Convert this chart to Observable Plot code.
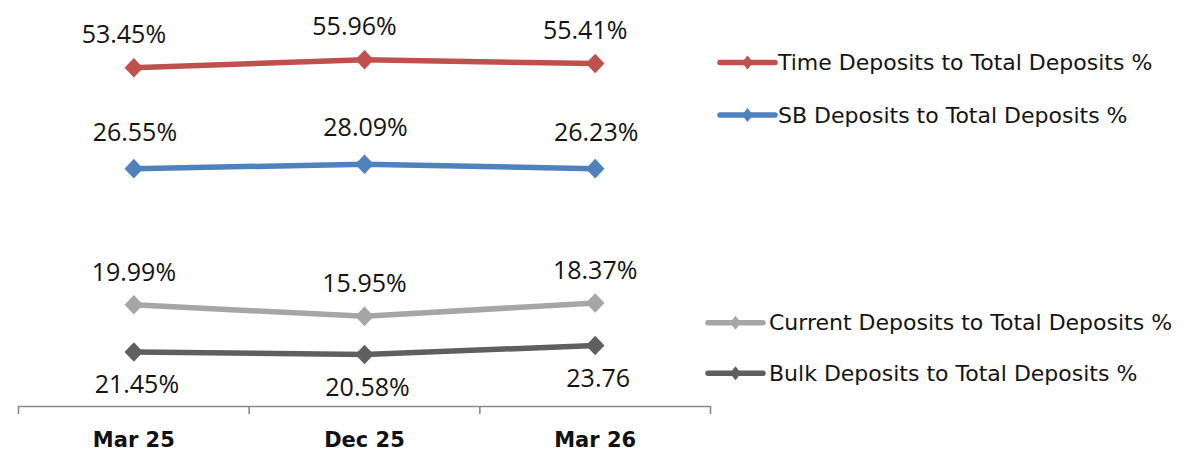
<!DOCTYPE html>
<html>
<head>
<meta charset="utf-8">
<script src="https://cdn.jsdelivr.net/npm/d3@7"></script>
<script src="https://cdn.jsdelivr.net/npm/@observablehq/plot@0.6"></script>
<style>
  html, body { margin: 0; padding: 0; background: #ffffff; }
  #wrap { position: relative; width: 1184px; height: 452px; overflow: hidden; }
  #legend { position: absolute; left: 0; top: 0; pointer-events: none; }
</style>
</head>
<body>
<div id="wrap"></div>
<script>
// ---- Data ----
const categories = ["Mar 25", "Dec 25", "Mar 26"];

const seriesNames = [
  "Time Deposits to Total Deposits %",
  "SB Deposits to Total Deposits %",
  "Current Deposits to Total Deposits %",
  "Bulk Deposits to Total Deposits %"
];

// data-label texts as printed on the chart
const timeLabels    = ["53.45%", "55.96%", "55.41%"];
const sbLabels      = ["26.55%", "28.09%", "26.23%"];
const currentLabels = ["19.99%", "15.95%", "18.37%"];
const bulkLabels    = ["21.45%", "20.58%", "23.76"];

// plotted level of each point on the chart's hidden value axis
const timeLevel    = [53.1, 55.2, 54.2];
const sbLevel      = [26.1, 27.25, 26.1];
const currentLevel = [-10.3, -13.4, -9.8];
const bulkLevel    = [-22.9, -23.6, -21.2];

const yDomain = [-37.5, 62.5];

// ---- Styles ----
const colors = ["#c0504d", "#4f81bd", "#a6a6a6", "#5f5f5f"];
const labelOffsets = [
  {dx: -10, dy: -25},
  {dx: 1, dy: -28},
  {dx: 0, dy: -24},
  {dx: 3, dy: 41}
];
const labelFont = "'Open Sans', 'Liberation Sans', sans-serif";

const levels = [timeLevel, sbLevel, currentLevel, bulkLevel];
const labels = [timeLabels, sbLabels, currentLabels, bulkLabels];

const seriesRows = seriesNames.map((name, s) =>
  categories.map((c, i) => ({series: name, cat: c, pos: i + 0.5, level: levels[s][i], label: labels[s][i]}))
);

// custom diamond symbol
const diamond = {
  draw(context, size) {
    const r = Math.sqrt(size / Math.PI);
    const h = r * 1.05;
    context.moveTo(0, -h);
    context.lineTo(r, 0);
    context.lineTo(0, h);
    context.lineTo(-r, 0);
    context.closePath();
  }
};

const marks = [];
seriesRows.forEach((rows, s) => {
  marks.push(Plot.line(rows, {x: "pos", y: "level", stroke: colors[s], strokeWidth: 5.5, strokeLinejoin: "round", strokeLinecap: "round"}));
});
seriesRows.forEach((rows, s) => {
  marks.push(Plot.dot(rows, {x: "pos", y: "level", symbol: diamond, r: 9.3, fill: colors[s], stroke: "none"}));
});
seriesRows.forEach((rows, s) => {
  marks.push(Plot.text(rows, {
    x: "pos", y: "level", text: "label",
    dx: labelOffsets[s].dx, dy: labelOffsets[s].dy,
    lineAnchor: "bottom", fontSize: 25, fontFamily: labelFont, fill: "#141414"
  }));
});

// axis line, boundary ticks and category labels
marks.push(Plot.ruleY([yDomain[0]], {stroke: "#8a8a8a", strokeWidth: 1.6}));
marks.push(Plot.axisX({
  ticks: d3.range(categories.length + 1),
  tickSize: 8, tickFormat: () => "", label: null, stroke: "#8a8a8a", strokeWidth: 1.6
}));
marks.push(Plot.axisX({
  ticks: categories.map((c, i) => i + 0.5),
  tickSize: 0, tickPadding: 26, label: null,
  tickFormat: d => categories[Math.floor(d)],
  fontSize: 21, fontWeight: "bold", fontFamily: "'DejaVu Sans', sans-serif", fill: "#111"
}));

const chart = Plot.plot({
  width: 1184,
  height: 452,
  marginLeft: 18,
  marginRight: 474,
  marginTop: 32,
  marginBottom: 46,
  x: {type: "linear", domain: [0, categories.length], axis: null},
  y: {type: "linear", domain: yDomain, axis: null},
  style: {background: "#ffffff", overflow: "visible"},
  marks
});

const wrap = document.getElementById("wrap");
wrap.appendChild(chart);

// ---- Legend (HTML overlay) ----
const legendLayout = [
  {y: 62.5, x0: 720, x1: 775, tx: 778},
  {y: 115, x0: 720, x1: 775, tx: 778},
  {y: 322.7, x0: 708, x1: 763, tx: 769},
  {y: 373.3, x0: 708, x1: 763, tx: 769}
];
const legend = d3.select(wrap).append("svg")
  .attr("id", "legend")
  .attr("width", 1184).attr("height", 452);
seriesNames.forEach((name, s) => {
  const L = legendLayout[s];
  const g = legend.append("g");
  g.append("line")
    .attr("x1", L.x0).attr("x2", L.x1).attr("y1", L.y).attr("y2", L.y)
    .attr("stroke", colors[s]).attr("stroke-width", 5.5).attr("stroke-linecap", "round");
  const cx = (L.x0 + L.x1) / 2;
  g.append("path")
    .attr("d", `M${cx},${L.y - 7}L${cx + 5.5},${L.y}L${cx},${L.y + 7}L${cx - 5.5},${L.y}Z`)
    .attr("fill", colors[s]);
  g.append("text")
    .attr("x", L.tx).attr("y", L.y + 7.5)
    .attr("font-family", "'DejaVu Sans', sans-serif")
    .attr("font-size", 22)
    .attr("fill", "#141414")
    .text(name);
});
</script>
</body>
</html>
